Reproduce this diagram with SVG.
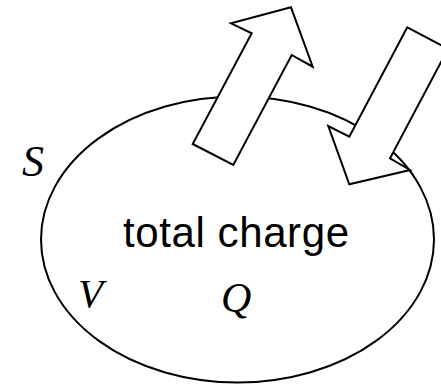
<svg xmlns="http://www.w3.org/2000/svg" width="441" height="385" viewBox="0 0 441 385">
<style>
.shape{fill:#fff;stroke:#000;stroke-width:2;stroke-linejoin:miter}
.sym{font-family:"Liberation Serif",serif;font-style:italic;font-size:42px;fill:#000}
.lbl{font-family:"Liberation Sans",Arial,sans-serif;font-size:42px;fill:#000}
</style>
<rect width="441" height="385" fill="#fff"/>
<g id="volume">
<ellipse cx="237.5" cy="239.5" rx="196.5" ry="143" fill="#fff" stroke="#000" stroke-width="2"/>
<text class="lbl" x="123" y="247" textLength="226" lengthAdjust="spacing">total charge</text>
<text class="sym" x="78" y="307" style="font-size:41px">V</text>
<text class="sym" x="221" y="312">Q</text>
</g>
<text id="surface" class="sym" x="22" y="176" style="font-size:44px">S</text>
<g id="connectors">
<polygon id="out-arrow" class="shape" points="192.7,144 233.3,165 291.7,55 312.7,66.7 291,7.3 231,23.3 251.7,33.3"/>
<polygon id="in-arrow" class="shape" points="407.3,27.3 349.3,136.7 328.3,126 349.3,184.3 410,170 390,158.3 448,48.9"/>
</g>
</svg>
